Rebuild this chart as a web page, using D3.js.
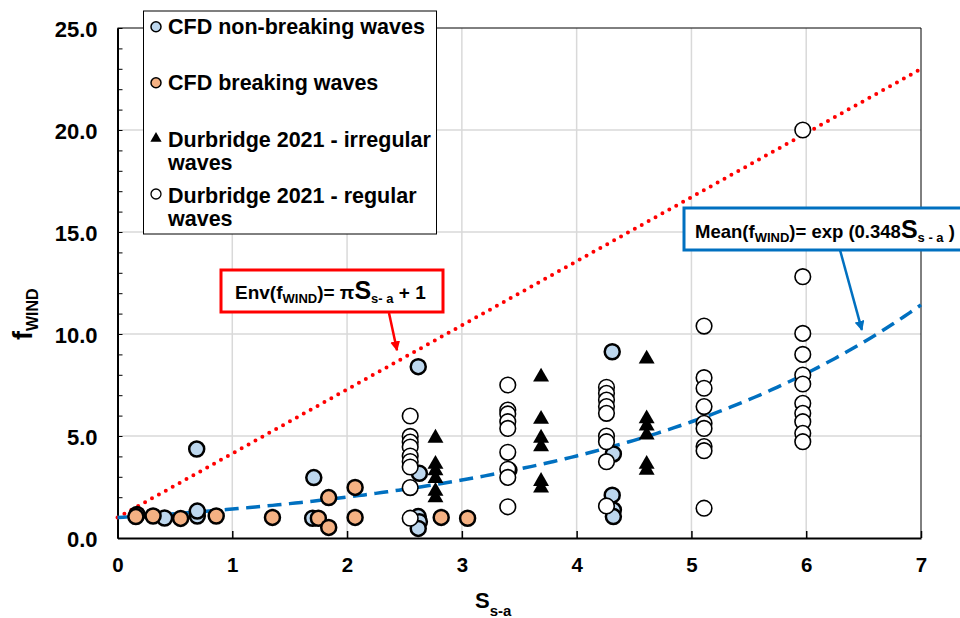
<!DOCTYPE html>
<html>
<head>
<meta charset="utf-8">
<script src="https://cdn.jsdelivr.net/npm/d3@7"></script>
<style>
  html, body { margin: 0; padding: 0; background: #fff; }
  svg { display: block; font-family: "Liberation Sans", Arial, sans-serif; font-weight: bold; }
</style>
</head>
<body>
<svg id="chart" width="960" height="618"></svg>
<script>
// ---------------- DATA ----------------
const xTickValues = [0, 1, 2, 3, 4, 5, 6, 7];
const yTickValues = [0, 5, 10, 15, 20, 25];
const yTickLabels = ["0.0", "5.0", "10.0", "15.0", "20.0", "25.0"];

// CFD non-breaking waves [S_s-a, f_WIND]
const cfdNonBreaking = [
  [0.17, 1.15], [0.41, 0.98], [0.69, 4.36], [0.695, 1.08], [0.695, 1.32],
  [1.71, 2.96], [1.70, 0.97], [2.62, 8.40], [2.63, 3.17], [2.62, 1.05],
  [2.63, 0.80], [2.62, 0.47], [4.31, 9.13], [4.32, 4.12], [4.31, 2.10],
  [4.32, 1.37], [4.32, 1.05]
];
// CFD breaking waves
const cfdBreaking = [
  [0.16, 1.05], [0.31, 1.08], [0.55, 0.96], [0.86, 1.08], [1.35, 1.01],
  [1.75, 0.97], [1.84, 1.98], [1.84, 0.52], [2.07, 2.48], [2.07, 1.01],
  [2.82, 1.01], [3.05, 0.97], [3.41, 3.33]
];
// Durbridge 2021 - irregular waves
const durbridgeIrregular = [
  [2.77, 4.90], [2.77, 3.62], [2.77, 3.30], [2.77, 2.92], [2.77, 2.30], [2.77, 1.98],
  [3.69, 7.90], [3.69, 5.82], [3.69, 4.90], [3.69, 4.48], [3.69, 2.78], [3.69, 2.45],
  [4.61, 8.78], [4.61, 5.85], [4.61, 5.50], [4.61, 5.05], [4.61, 3.62], [4.61, 3.33]
];
// Durbridge 2021 - regular waves
const durbridgeRegular = [
  [2.55, 5.98], [2.55, 4.98], [2.55, 4.70], [2.55, 4.46], [2.55, 4.02], [2.55, 3.75],
  [2.55, 3.48], [2.55, 2.47], [2.55, 0.97],
  [3.40, 7.50], [3.40, 6.27], [3.40, 6.08], [3.40, 5.70], [3.40, 5.37], [3.40, 4.20],
  [3.40, 3.37], [3.40, 2.97], [3.40, 1.53],
  [4.26, 7.39], [4.26, 7.09], [4.26, 6.76], [4.26, 6.44], [4.26, 6.11], [4.26, 5.00],
  [4.26, 4.72], [4.26, 3.74], [4.26, 1.57],
  [5.11, 10.39], [5.11, 7.86], [5.11, 7.34], [5.11, 6.44], [5.11, 5.62], [5.11, 5.37],
  [5.11, 4.48], [5.11, 4.28], [5.11, 1.46],
  [5.97, 20.00], [5.97, 12.81], [5.97, 10.03], [5.97, 9.00], [5.97, 7.99], [5.97, 7.55],
  [5.97, 6.60], [5.97, 6.11], [5.97, 5.70], [5.97, 5.13], [5.97, 4.72]
];

// Curve definitions stated in the chart annotations
const envSlope = Math.PI, envIntercept = 1;       // Env(fWIND) = pi*S + 1
const meanRate = 0.348;                            // Mean(fWIND) = exp(0.348 S)
const curveS = d3.range(0, 7.0001, 0.05);

const legendLabels = [
  ["CFD non-breaking waves"],
  ["CFD breaking waves"],
  ["Durbridge 2021 - irregular", "waves"],
  ["Durbridge 2021 - regular", "waves"]
];

// ---------------- LAYOUT ----------------
const svg = d3.select("#chart");
const pLeft = 117.5, pRight = 921, pTop = 28, pBottom = 538;
const x = d3.scaleLinear().domain([0, 7]).range([pLeft, pRight]);
const y = d3.scaleLinear().domain([0, 25]).range([pBottom, pTop]);

const colBlue = "#BDD7EE", colOrange = "#F4B183";
const gridCol = "#D9D9D9";

// gridlines
const g = svg.append("g");
g.selectAll("line.vg").data(xTickValues.slice(1, -1)).join("line")
  .attr("x1", d => x(d)).attr("x2", d => x(d)).attr("y1", pTop).attr("y2", pBottom)
  .attr("stroke", gridCol).attr("stroke-width", 1.5);
g.selectAll("line.hg").data(yTickValues.slice(1, -1)).join("line")
  .attr("x1", pLeft).attr("x2", pRight).attr("y1", d => y(d)).attr("y2", d => y(d))
  .attr("stroke", gridCol).attr("stroke-width", 1.5);

// frame top/right
svg.append("line").attr("x1", pLeft).attr("x2", pRight).attr("y1", pTop).attr("y2", pTop)
  .attr("stroke", "#000").attr("stroke-width", 1);
svg.append("line").attr("x1", pRight).attr("x2", pRight).attr("y1", pTop).attr("y2", pBottom)
  .attr("stroke", "#000").attr("stroke-width", 1);

// axes
const xAxis = d3.axisBottom(x).tickValues(xTickValues).tickSizeInner(-7).tickSizeOuter(0).tickFormat(d3.format("d"));
const gx = svg.append("g").attr("transform", `translate(0,${pBottom})`).call(xAxis);
gx.select(".domain").attr("stroke", "#000").attr("stroke-width", 2);
gx.selectAll(".tick line").attr("stroke", "#000").attr("stroke-width", 1.5);
gx.selectAll(".tick text").attr("font-size", 20.5).attr("font-weight", "bold")
  .attr("font-family", "Liberation Sans, Arial, sans-serif").attr("fill", "#000")
  .attr("y", 34).attr("dy", null);

const yMinor = d3.range(0, 25.001, 1);
const yAxis = d3.axisLeft(y).tickValues(yMinor).tickSizeInner(-5).tickSizeOuter(0)
  .tickFormat(d => { const i = yTickValues.indexOf(d); return i >= 0 ? yTickLabels[i] : ""; });
const gy = svg.append("g").attr("transform", `translate(${pLeft},0)`).call(yAxis);
gy.select(".domain").attr("stroke", "#000").attr("stroke-width", 2);
gy.selectAll(".tick line").attr("stroke", "#000").attr("stroke-width", 1);
gy.selectAll(".tick text").attr("font-size", 22).attr("font-weight", "bold")
  .attr("font-family", "Liberation Sans, Arial, sans-serif").attr("fill", "#000")
  .attr("x", -20).attr("dy", "0.37em");

// curves
const envLine = d3.line().x(d => x(d)).y(d => y(envSlope * d + envIntercept));
svg.append("path").attr("d", envLine([0, 7])).attr("fill", "none")
  .attr("stroke", "#FF0000").attr("stroke-width", 4).attr("stroke-linecap", "round")
  .attr("stroke-dasharray", "0 7.9");
const meanLine = d3.line().x(d => x(d)).y(d => y(Math.exp(meanRate * d)));
svg.append("path").attr("d", meanLine(curveS)).attr("fill", "none")
  .attr("stroke", "#0070C0").attr("stroke-width", 3.5)
  .attr("stroke-dasharray", "14 7.5");

// points
const R = 7.5;
svg.append("g").selectAll("circle").data(cfdNonBreaking).join("circle")
  .attr("cx", d => x(d[0])).attr("cy", d => y(d[1])).attr("r", R)
  .attr("fill", colBlue).attr("stroke", "#000").attr("stroke-width", 2.5);
svg.append("g").selectAll("circle").data(cfdBreaking).join("circle")
  .attr("cx", d => x(d[0])).attr("cy", d => y(d[1])).attr("r", R)
  .attr("fill", colOrange).attr("stroke", "#000").attr("stroke-width", 2.5);
const tri = d3.symbol().type(d3.symbolTriangle).size(110);
svg.append("g").selectAll("path").data(durbridgeIrregular).join("path")
  .attr("d", tri).attr("transform", d => `translate(${x(d[0])},${y(d[1])})`)
  .attr("fill", "#000");
svg.append("g").selectAll("circle").data(durbridgeRegular).join("circle")
  .attr("cx", d => x(d[0])).attr("cy", d => y(d[1])).attr("r", R + 0.3)
  .attr("fill", "#fff").attr("stroke", "#000").attr("stroke-width", 1.6);

// axis titles
const xt = svg.append("text").attr("x", 475).attr("y", 608).attr("font-size", 22);
xt.append("tspan").text("S");
xt.append("tspan").attr("font-size", 15).attr("dy", 8).text("s-a");

const yt = svg.append("text").attr("transform", "translate(32,340) rotate(-90)").attr("font-size", 27);
yt.append("tspan").text("f");
yt.append("tspan").attr("font-size", 16).attr("dy", 6).text("WIND");

// legend
const leg = svg.append("g");
leg.append("rect").attr("x", 143.5).attr("y", 11).attr("width", 293).attr("height", 223)
  .attr("fill", "#fff").attr("stroke", "#000").attr("stroke-width", 1);
const legSymY = [26.7, 82.7, 138.5, 194];
const legBase = [[34], [90], [146.5, 170], [202.7, 226]];
const legX = 156;
leg.append("circle").attr("cx", legX).attr("cy", legSymY[0]).attr("r", 5)
  .attr("fill", colBlue).attr("stroke", "#000").attr("stroke-width", 1.5);
leg.append("circle").attr("cx", legX).attr("cy", legSymY[1]).attr("r", 5)
  .attr("fill", colOrange).attr("stroke", "#000").attr("stroke-width", 1.5);
leg.append("path").attr("d", d3.symbol().type(d3.symbolTriangle).size(55))
  .attr("transform", `translate(${legX},${legSymY[2]})`).attr("fill", "#000");
leg.append("circle").attr("cx", legX).attr("cy", legSymY[3]).attr("r", 5)
  .attr("fill", "#fff").attr("stroke", "#000").attr("stroke-width", 1.3);
legendLabels.forEach((lines, i) => {
  lines.forEach((t, j) => {
    leg.append("text").attr("x", 168).attr("y", legBase[i][j]).attr("font-size", 21.5).text(t);
  });
});

// arrow markers
const defs = svg.append("defs");
[["arrRed", "#FF0000"], ["arrBlue", "#0070C0"]].forEach(([id, c]) => {
  defs.append("marker").attr("id", id).attr("viewBox", "0 0 10 10").attr("refX", 9).attr("refY", 5)
    .attr("markerWidth", 4).attr("markerHeight", 4).attr("orient", "auto")
    .attr("markerUnits", "strokeWidth")
    .append("path").attr("d", "M0,0 L10,5 L0,10 z").attr("fill", c);
});

// red callout
svg.append("line").attr("x1", 389).attr("y1", 313).attr("x2", x(2.435)).attr("y2", y(9.2))
  .attr("stroke", "#FF0000").attr("stroke-width", 2.5).attr("marker-end", "url(#arrRed)");
svg.append("rect").attr("x", 221).attr("y", 270).attr("width", 222).attr("height", 42)
  .attr("fill", "#fff").attr("stroke", "#FF0000").attr("stroke-width", 3);
const rt = svg.append("text").attr("x", 235).attr("y", 299).attr("font-size", 19);
rt.append("tspan").text("Env(f");
rt.append("tspan").attr("font-size", 13).attr("dy", 4).text("WIND");
rt.append("tspan").attr("dy", -4).text(")= \u03C0");
rt.append("tspan").attr("font-size", 25).text("S");
rt.append("tspan").attr("font-size", 13).attr("dy", 4).text("s- a");
rt.append("tspan").attr("dy", -4).text(" + 1");

// blue callout
svg.append("line").attr("x1", 840).attr("y1", 250).attr("x2", x(6.485)).attr("y2", y(10.2))
  .attr("stroke", "#0070C0").attr("stroke-width", 2.5).attr("marker-end", "url(#arrBlue)");
svg.append("rect").attr("x", 684).attr("y", 208).attr("width", 290).attr("height", 42)
  .attr("fill", "#fff").attr("stroke", "#0070C0").attr("stroke-width", 3);
const bt = svg.append("text").attr("x", 695).attr("y", 238).attr("font-size", 18.5);
bt.append("tspan").text("Mean(f");
bt.append("tspan").attr("font-size", 13).attr("dy", 4).text("WIND");
bt.append("tspan").attr("dy", -4).text(")= exp (0.348");
bt.append("tspan").attr("font-size", 25).text("S");
bt.append("tspan").attr("font-size", 13).attr("dy", 4).text("s - a");
bt.append("tspan").attr("dy", -4).text(" )");
</script>
</body>
</html>
